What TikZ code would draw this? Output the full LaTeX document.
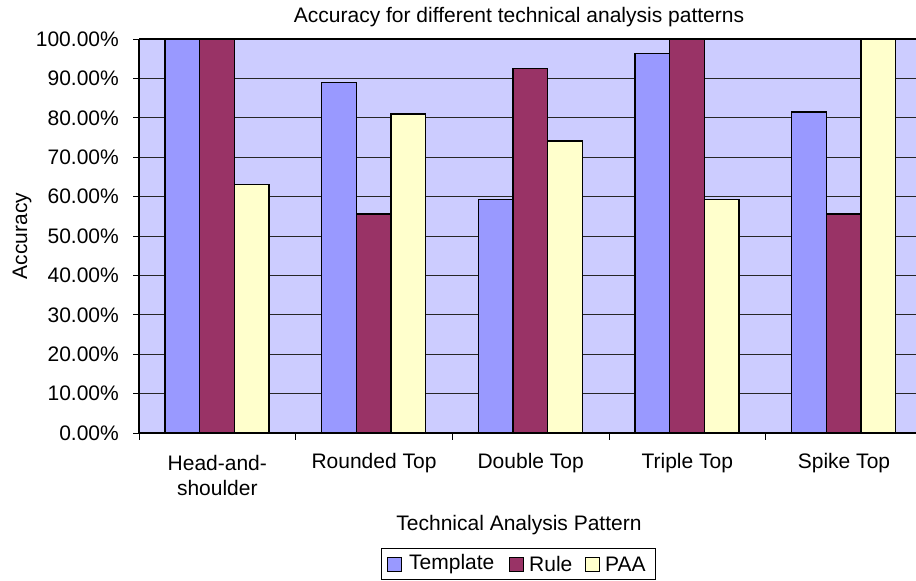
\documentclass[tikz,border=0pt]{standalone}
\usepackage{tikz}
\usepackage{xcolor}
\usepackage{fontspec}
\setmainfont{Liberation Sans}
\definecolor{plotbg}{HTML}{CCCCFF}
\definecolor{tmplcol}{HTML}{9999FF}
\definecolor{rulecol}{HTML}{993366}
\definecolor{paacol}{HTML}{FFFFCC}

\begin{document}
\begin{tikzpicture}[x=1pt,y=1pt,
  tmpl/.style={draw=black,line width=1.2pt,fill=tmplcol},
  rul/.style={draw=black,line width=1.2pt,fill=rulecol},
  paa/.style={draw=black,line width=1.2pt,fill=paacol},
  grid/.style={black!85,line width=1pt}]
\tikzstyle{every node}+=[inner sep=0pt,font=\fontsize{21}{24}\selectfont]
\useasboundingbox (0,0) rectangle (916,-581);
\begin{scope}
\clip (0,0) rectangle (916,-581);
% plot area and grid
\fill [plotbg] (139,-433) rectangle (930,-39);
\draw [grid] (139,-393.6) -- (930,-393.6);
\draw [grid] (139,-354.2) -- (930,-354.2);
\draw [grid] (139,-314.8) -- (930,-314.8);
\draw [grid] (139,-275.4) -- (930,-275.4);
\draw [grid] (139,-236) -- (930,-236);
\draw [grid] (139,-196.6) -- (930,-196.6);
\draw [grid] (139,-157.2) -- (930,-157.2);
\draw [grid] (139,-117.8) -- (930,-117.8);
\draw [grid] (139,-78.4) -- (930,-78.4);
\draw [black,line width=1.2pt] (139,-39) -- (930,-39);
% Head-and-shoulder
\draw [tmpl] (165,-433) rectangle (199.67,-39);
\draw [rul] (199.67,-433) rectangle (234.33,-39);
\draw [paa] (234.33,-433) rectangle (269,-184.8);
% Rounded Top
\draw [tmpl] (321.67,-433) rectangle (356.33,-82.7);
\draw [rul] (356.33,-433) rectangle (391,-214);
\draw [paa] (391,-433) rectangle (425.67,-113.9);
% Double Top
\draw [tmpl] (478.33,-433) rectangle (513,-199.4);
\draw [rul] (513,-433) rectangle (547.67,-68.2);
\draw [paa] (547.67,-433) rectangle (582.33,-141);
% Triple Top
\draw [tmpl] (635,-433) rectangle (669.67,-53.6);
\draw [rul] (669.67,-433) rectangle (704.33,-39);
\draw [paa] (704.33,-433) rectangle (739,-199.4);
% Spike Top
\draw [tmpl] (791.67,-433) rectangle (826.33,-111.9);
\draw [rul] (826.33,-433) rectangle (861,-214);
\draw [paa] (861,-433) rectangle (895.67,-39);
% axes
\draw [black,line width=1.5pt] (139,-433) -- (930,-433);
\draw [black,line width=1.5pt] (139,-433) -- (139,-39);
\draw [black,line width=1pt] (133,-433) -- (139,-433);
\draw [black,line width=1pt] (133,-393.6) -- (139,-393.6);
\draw [black,line width=1pt] (133,-354.2) -- (139,-354.2);
\draw [black,line width=1pt] (133,-314.8) -- (139,-314.8);
\draw [black,line width=1pt] (133,-275.4) -- (139,-275.4);
\draw [black,line width=1pt] (133,-236) -- (139,-236);
\draw [black,line width=1pt] (133,-196.6) -- (139,-196.6);
\draw [black,line width=1pt] (133,-157.2) -- (139,-157.2);
\draw [black,line width=1pt] (133,-117.8) -- (139,-117.8);
\draw [black,line width=1pt] (133,-78.4) -- (139,-78.4);
\draw [black,line width=1pt] (133,-39) -- (139,-39);
\draw [black,line width=1pt] (139,-433) -- (139,-440);
\draw [black,line width=1pt] (295.67,-433) -- (295.67,-440);
\draw [black,line width=1pt] (452.33,-433) -- (452.33,-440);
\draw [black,line width=1pt] (609,-433) -- (609,-440);
\draw [black,line width=1pt] (765.67,-433) -- (765.67,-440);
\end{scope}
% y labels
\draw (119,-433) node (y0) [left] {0.00\%};
\draw (119,-393.6) node (y10) [left] {10.00\%};
\draw (119,-354.2) node (y20) [left] {20.00\%};
\draw (119,-314.8) node (y30) [left] {30.00\%};
\draw (119,-275.4) node (y40) [left] {40.00\%};
\draw (119,-236) node (y50) [left] {50.00\%};
\draw (119,-196.6) node (y60) [left] {60.00\%};
\draw (119,-157.2) node (y70) [left] {70.00\%};
\draw (119,-117.8) node (y80) [left] {80.00\%};
\draw (119,-78.4) node (y90) [left] {90.00\%};
\draw (119,-39) node (y100) [left] {100.00\%};
\draw (22,-236) node (ytitle) [rotate=90] {Accuracy};
% category labels
\draw (217.3,-463) node (headA) {Head-and-};
\draw (217.3,-488) node (headB) {shoulder};
\draw (374,-463) node (rounded) {Rounded Top};
\draw (530.7,-463) node (double) {Double Top};
\draw (687.3,-463) node (triple) {Triple Top};
\draw (844,-463) node (spike) {Spike Top};
\draw (519,-17) node (title) {Accuracy for different technical analysis patterns};
\draw (519,-525) node (xtitle) {Technical Analysis Pattern};
% legend
\draw [black,line width=1pt] (381,-548) rectangle (655,-579);
\draw [tmpl,line width=1pt] (387,-557) rectangle (401,-571);
\draw (409,-564) node (legtmpl) [right] {Template};
\draw [rul,line width=1pt] (509,-557) rectangle (523,-571);
\draw (529,-564) node (legrule) [right] {Rule};
\draw [paa,line width=1pt] (585,-557) rectangle (599,-571);
\draw (605,-564) node (legpaa) [right] {PAA};
\end{tikzpicture}
\end{document}
